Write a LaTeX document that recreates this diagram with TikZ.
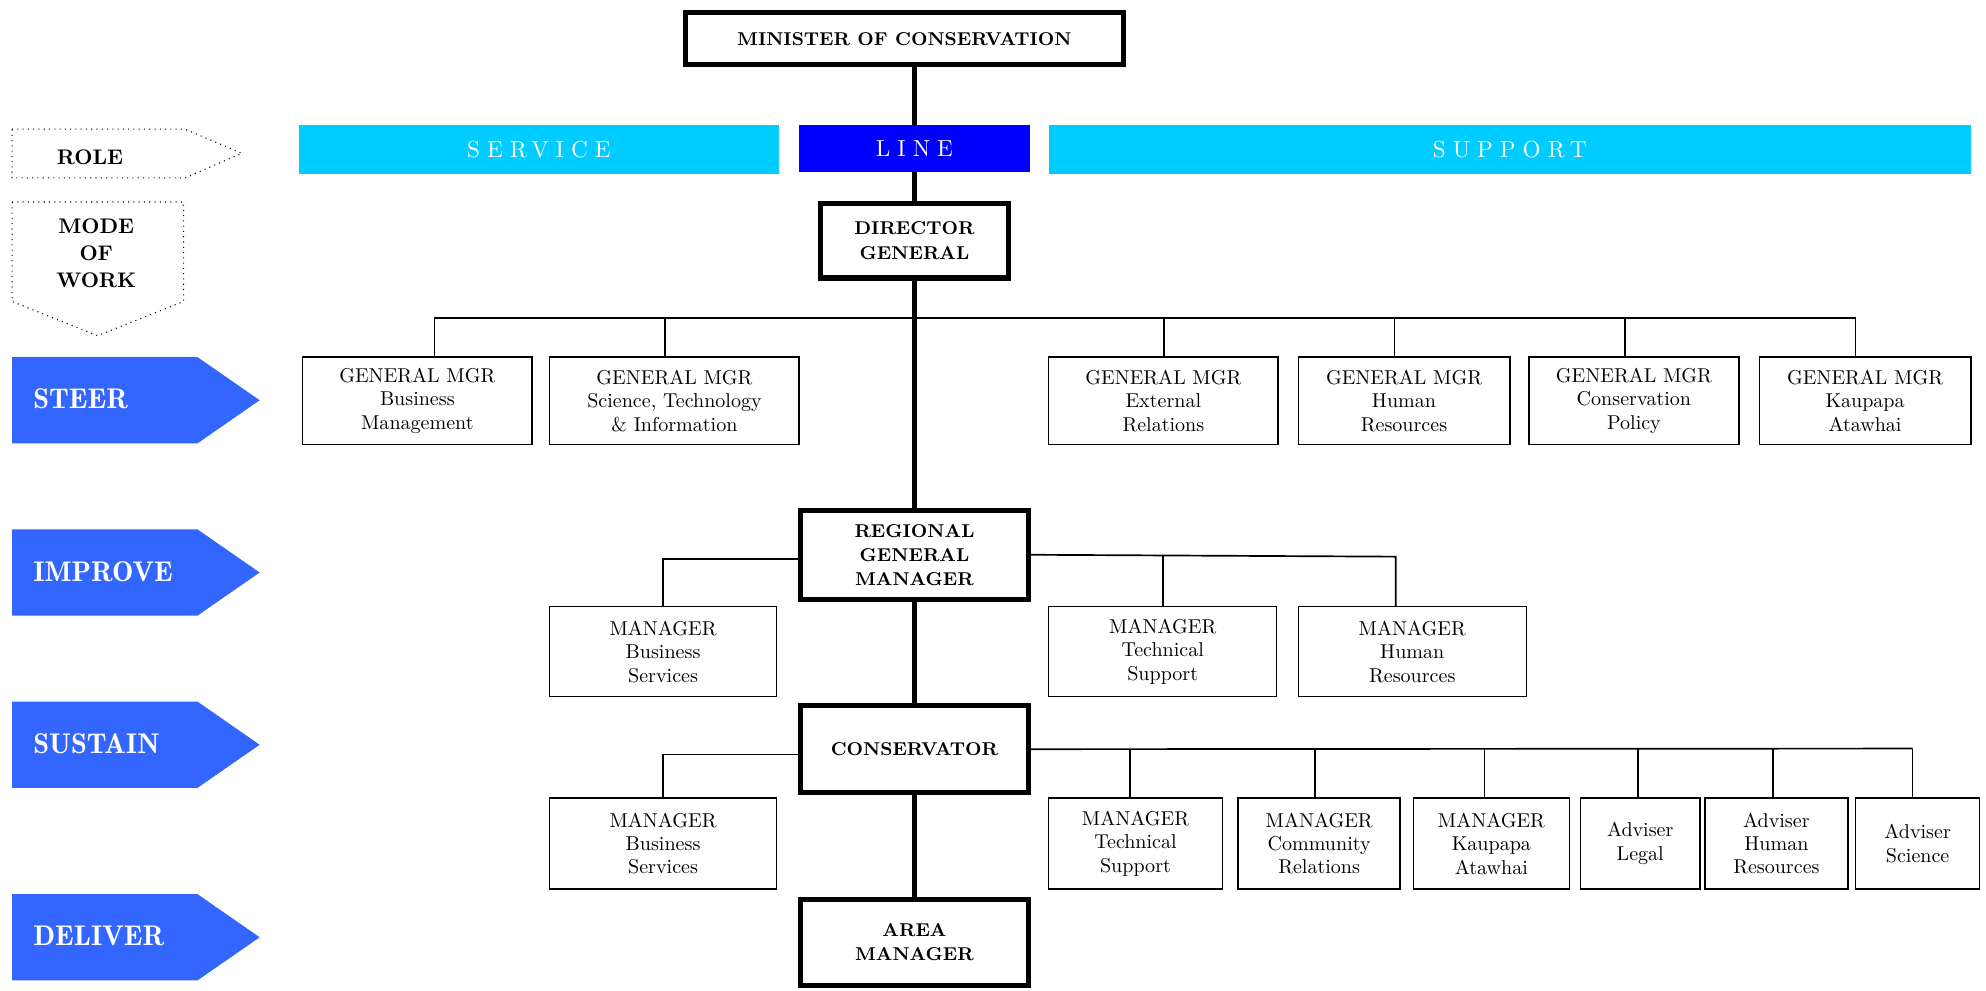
\documentclass[tikz,border=0pt]{standalone}
\usepackage{fontspec}
\usepackage{xcolor}
\usetikzlibrary{positioning}
\newfontfamily\bandfont{lmroman10-regular.otf}[LetterSpace=30]
\newfontfamily\phasefont{lmromandemi10-regular.otf}
\definecolor{servicecyan}{HTML}{00CCFF}
\definecolor{lineblue}{HTML}{0000FF}
\definecolor{phaseblue}{HTML}{3366FF}
\tikzset{
  keybox/.style    = {rectangle, draw, line width=2.4pt, fill=white,
                      align=center, inner sep=0pt,
                      font=\fontsize{8.8}{11.4}\selectfont\bfseries},
  unitbox/.style   = {rectangle, draw, line width=0.7pt, fill=white,
                      align=center, inner sep=0pt,
                      font=\fontsize{9.5}{11.1}\selectfont},
  band/.style      = {rectangle, inner sep=0pt, text=white,
                      font=\bandfont\fontsize{11}{13}\selectfont},
  boxsize/.style 2 args = {minimum width=#1*0.6pt, minimum height=#2*0.6pt},
  trunk/.style     = {line width=2.8pt},
  link/.style      = {line width=0.8pt},
  keyarrow/.style  = {draw, dotted, line width=0.5pt},
  phase/.style     = {fill=phaseblue},
  phaselabel/.style= {anchor=west, inner sep=0pt, text=white,
                      font=\phasefont\fontsize{13.5}{16}\selectfont},
  keylabel/.style  = {align=center, inner sep=0pt,
                      font=\fontsize{10}{12.6}\selectfont\bfseries},
}

\begin{document}
\begin{tikzpicture}[x=0.6pt, y=-0.6pt]
  \useasboundingbox (0,0) rectangle (1568,781.7);

  % key on the left
  \draw[keyarrow] (9.5,102) -- (146,102) -- (191,121) -- (146,140.5) -- (9.5,140.5) -- cycle;
  \node[keylabel] (role) at (71,124) {ROLE};
  \draw[keyarrow] (9.5,159.5) -- (145,159.5) -- (145,238) -- (77,265) -- (9.5,238) -- cycle;
  \node[keylabel] (mode) at (76,200) {MODE\\OF\\WORK};

  \foreach \nm/\lbl/\top in {steer/STEER/282, improve/IMPROVE/418,
                             sustain/SUSTAIN/554, deliver/DELIVER/706} {
    \fill[phase] (9.5,\top) -- (156,\top) -- (205,\top+34) -- (156,\top+68) -- (9.5,\top+68) -- cycle;
    \node[phaselabel] (\nm) at (26,\top+33) {\lbl};
  }

  % line management
  \node[keybox, boxsize={346}{41}] (minister) at (714,30.5) {MINISTER OF CONSERVATION};
  \node[keybox, boxsize={149}{59}] (dg)   at (722,190)   {DIRECTOR\\GENERAL};
  \node[keybox, boxsize={180}{70}] (rgm)  at (722,438)   {REGIONAL\\GENERAL\\MANAGER};
  \node[keybox, boxsize={180}{69}] (cons) at (722,591.5) {CONSERVATOR};
  \node[keybox, boxsize={180}{68}] (area) at (722,744)   {AREA\\MANAGER};

  % general managers
  \node[unitbox, boxsize={181}{69}] (gm1) at (329.5,316.5)  {GENERAL MGR\\Business\\Management};
  \node[unitbox, boxsize={197}{69}] (gm2) at (532.5,316.5)  {GENERAL MGR\\Science, Technology\\\& Information};
  \node[unitbox, boxsize={181}{69}] (gm3) at (918.5,316.5)  {GENERAL MGR\\External\\Relations};
  \node[unitbox, boxsize={167}{69}] (gm4) at (1108.5,316.5) {GENERAL MGR\\Human\\Resources};
  \node[unitbox, boxsize={166}{69}] (gm5) at (1290,316.5)   {GENERAL MGR\\Conservation\\Policy};
  \node[unitbox, boxsize={167}{69}] (gm6) at (1472.5,316.5) {GENERAL MGR\\Kaupapa\\Atawhai};

  % regional managers
  \node[unitbox, boxsize={179}{71}] (mb1) at (523.5,514.5) {MANAGER\\Business\\Services};
  \node[unitbox, boxsize={180}{71}] (mt1) at (918,514.5)   {MANAGER\\Technical\\Support};
  \node[unitbox, boxsize={180}{71}] (mh1) at (1115,514.5)  {MANAGER\\Human\\Resources};

  % conservancy
  \node[unitbox, boxsize={179}{72}] (mb2) at (523.5,666) {MANAGER\\Business\\Services};
  \node[unitbox, boxsize={137}{72}] (ct)  at (896.5,666) {MANAGER\\Technical\\Support};
  \node[unitbox, boxsize={128}{72}] (cc)  at (1041.5,666) {MANAGER\\Community\\Relations};
  \node[unitbox, boxsize={123}{72}] (ck)  at (1177.5,666) {MANAGER\\Kaupapa\\Atawhai};
  \node[unitbox, boxsize={94}{72}]  (al)  at (1295,666)  {Adviser\\Legal};
  \node[unitbox, boxsize={113}{72}] (ah)  at (1402.5,666) {Adviser\\Human\\Resources};
  \node[unitbox, boxsize={98}{72}]  (as)  at (1514,666)  {Adviser\\Science};

  % connectors
  \foreach \x [count=\i] in {343,525,919,1101,1283,1465}
    \coordinate (t\i) at (\x,251);
  \draw[link] (t1) -- (t6);
  \foreach \i in {1,...,6}
    \draw[link] (t\i) -- (t\i |- gm\i.north);

  \draw[link] ([yshift=-2pt]rgm.west) -| (mb1.north);
  \coordinate (rgmend) at (1102,439.5);
  \draw[link] (rgm.east) -- (rgmend) -- (rgmend |- mh1.north);
  \draw[link] (mt1.north) -- (mt1.north |- rgm.east);

  \draw[link] ([yshift=-2.5pt]cons.west) -| (mb2.north);
  \foreach \x [count=\i] in {892,1038,1172,1293,1400,1510}
    \coordinate (c\i) at (\x,591);
  \draw[link] (cons.east) -- (c6);
  \foreach \n [count=\i] in {ct,cc,ck,al,ah,as}
    \draw[link] (c\i) -- (c\i |- \n.north);

  \draw[trunk] (dg.north |- minister.south) -- (dg.north);
  \draw[trunk] (dg) -- (rgm);
  \draw[trunk] (rgm) -- (cons);
  \draw[trunk] (cons) -- (area);

  % role bands
  \node[band, fill=servicecyan, boxsize={379}{38}] (service) at (425.5,118) {SERVICE};
  \node[band, fill=lineblue,    boxsize={182}{37}] (linerole) at (722,117.5) {LINE};
  \node[band, fill=servicecyan, boxsize={728}{38}] (support) at (1192,118)  {SUPPORT};
\end{tikzpicture}
\end{document}
